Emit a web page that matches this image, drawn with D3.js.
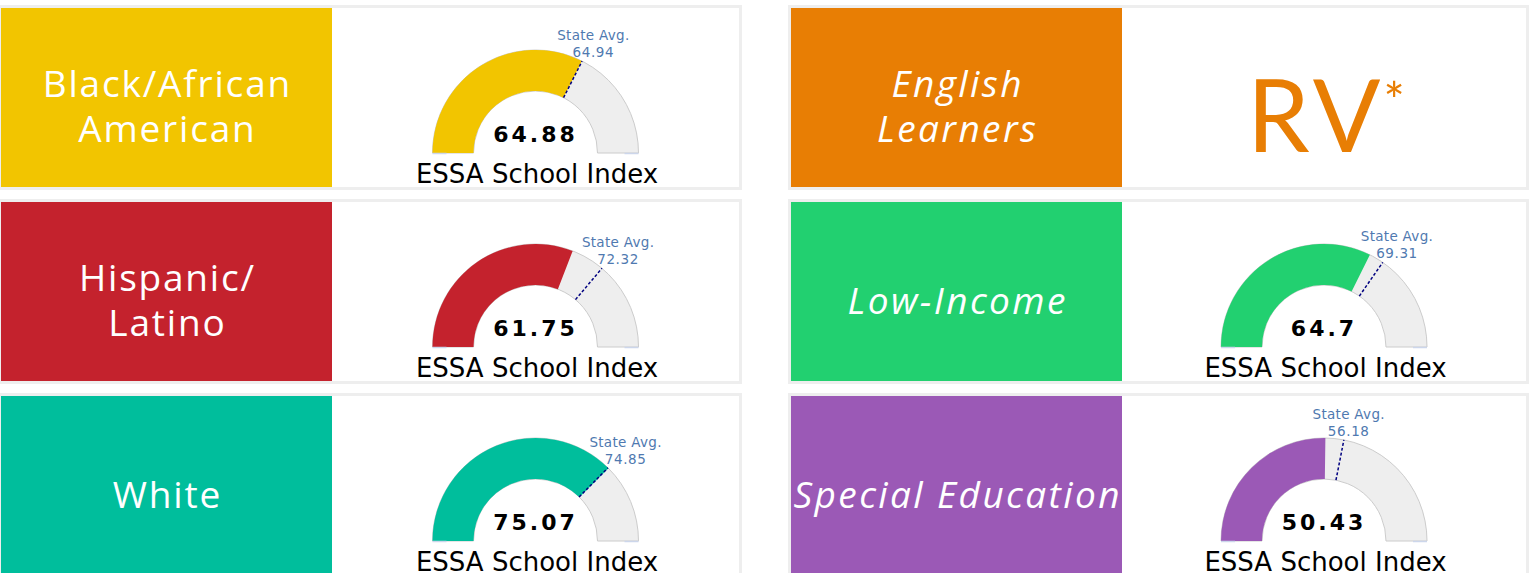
<!DOCTYPE html>
<html>
<head>
<meta charset="utf-8">
<script src="https://cdn.jsdelivr.net/npm/d3@7"></script>
<style>
  html, body { margin: 0; padding: 0; background: #fff; overflow: hidden; }
</style>
</head>
<body>
<svg width="1530" height="573"></svg>
<script>
// data
var groups      = ["Black/African American", "Hispanic/ Latino", "White", "English Learners", "Low-Income", "Special Education"];
var labelLines  = [["Black/African", "American"], ["Hispanic/", "Latino"], ["White"], ["English", "Learners"], ["Low-Income"], ["Special Education"]];
var schoolIndex = [64.88, 61.75, 75.07, null, 64.7, 50.43];
var stateAvg    = [64.94, 72.32, 74.85, null, 69.31, 56.18];
var indexRange  = [0, 100];
var gaugeTitle  = "ESSA School Index";
var avgLabel    = "State Avg.";
var noValue     = "RV";

// style
var colors  = ["#f2c500", "#c4222d", "#00be9c", "#e87e04", "#22d070", "#9b59b6"];
var italics = [false, false, false, true, true, true];

var svg = d3.select("svg"),
    width = +svg.attr("width"),
    height = +svg.attr("height");

var R = 103, r = 62;
var angle = d3.scaleLinear().domain(indexRange).range([-Math.PI / 2, Math.PI / 2]);
var arc = d3.arc().innerRadius(r).outerRadius(R);

function polar(a, rad) { return [rad * Math.sin(a), -rad * Math.cos(a)]; }

groups.forEach(function(name, i) {
	var col = Math.floor(i / 3), row = i % 3;
	var ox = col == 0 ? -2 : 788,
	    ow = col == 0 ? 744 : 741,
	    oy = 5 + row * 194,
	    oh = 185;
	var p = svg.append("g").attr("class", "panel");

	p.append("rect").attr("x", ox).attr("y", oy).attr("width", ow).attr("height", oh).attr("fill", "#eeeeee");
	p.append("rect").attr("x", ox + 3).attr("y", oy + 3).attr("width", ow - 6).attr("height", oh - 6).attr("fill", "#ffffff");

	var bx = ox + 3, by = oy + 3, bw = 331, bh = 179;
	p.append("rect").attr("x", bx).attr("y", by).attr("width", bw).attr("height", bh).attr("fill", colors[i]);

	// group name, one text with a tspan per line
	var lines = labelLines[i];
	var cyBlock = by + bh / 2;
	var first = cyBlock + 22 - (lines.length - 1) * 22.5;
	var ls = italics[i] ? 2.4 : 1.8;
	var cat = p.append("text")
		.attr("class", "cat")
		.attr("text-anchor", "middle")
		.attr("font-family", "'Open Sans', 'Noto Sans', sans-serif")
		.attr("font-size", 37)
		.attr("letter-spacing", ls)
		.attr("font-style", italics[i] ? "italic" : "normal")
		.attr("fill", "#ffffff");
	cat.selectAll("tspan").data(lines).enter().append("tspan")
		.attr("x", bx + bw / 2 + ls / 2)
		.attr("y", function(d, k) { return first + k * 45; })
		.text(function(d) { return d; });

	var cx = (bx + bw + ox + ow - 3) / 2,
	    cy = oy + 148;

	if (schoolIndex[i] == null) {
		var t = p.append("text")
			.attr("x", cx - 77)
			.attr("y", oy + 147)
			.attr("text-anchor", "start")
			.attr("font-family", "Lato, sans-serif")
			.attr("font-weight", 400)
			.attr("font-size", 100)
			.attr("fill", colors[i]);
		t.append("tspan").attr("letter-spacing", 5).text(noValue);
		t.append("tspan").attr("font-size", 50).attr("dy", -33).attr("dx", -2).text("*");
		return;
	}

	var g = p.append("g").attr("transform", "translate(" + cx + "," + cy + ")");

	g.append("path")
		.attr("d", arc({ startAngle: angle(indexRange[0]), endAngle: angle(indexRange[1]) }))
		.attr("fill", "#eeeeee")
		.attr("stroke", "#cccccc")
		.attr("stroke-width", 1);

	g.append("path")
		.attr("d", arc({ startAngle: angle(indexRange[0]), endAngle: angle(schoolIndex[i]) }))
		.attr("fill", colors[i]);

	// axis ends
	g.append("line").attr("x1", -R).attr("x2", -R + 14).attr("y1", 0.5).attr("y2", 0.5)
		.attr("stroke", "#ccd6eb").attr("stroke-width", 1.5);
	g.append("line").attr("x1", R - 14).attr("x2", R).attr("y1", 0.5).attr("y2", 0.5)
		.attr("stroke", "#ccd6eb").attr("stroke-width", 1.5);

	var a = angle(stateAvg[i]);
	var p1 = polar(a, r), p2 = polar(a, R);
	g.append("line")
		.attr("x1", p1[0]).attr("y1", p1[1])
		.attr("x2", p2[0]).attr("y2", p2[1])
		.attr("stroke", "#000080")
		.attr("stroke-width", 1.5)
		.attr("stroke-dasharray", "3,2");

	var lx = p2[0] + 25 * Math.sin(a), ly = p2[1] - 4;
	g.append("text")
		.attr("x", lx).attr("y", ly - 17)
		.attr("text-anchor", "middle")
		.attr("font-family", "'DejaVu Sans', sans-serif")
		.attr("font-size", 13.5)
		.attr("letter-spacing", 0.3)
		.attr("fill", "#4f79b0")
		.text(avgLabel);
	g.append("text")
		.attr("x", lx).attr("y", ly)
		.attr("text-anchor", "middle")
		.attr("font-family", "'DejaVu Sans', sans-serif")
		.attr("font-size", 13.5)
		.attr("letter-spacing", 0.6)
		.attr("fill", "#4f79b0")
		.text(stateAvg[i]);

	g.append("text")
		.attr("x", 0).attr("y", -11.5)
		.attr("text-anchor", "middle")
		.attr("font-family", "'DejaVu Sans', sans-serif")
		.attr("font-weight", "bold")
		.attr("font-size", 22)
		.attr("letter-spacing", 3)
		.attr("fill", "#000000")
		.text(schoolIndex[i]);

	g.append("text")
		.attr("x", 1.5).attr("y", 30)
		.attr("text-anchor", "middle")
		.attr("font-family", "'DejaVu Sans', sans-serif")
		.attr("font-size", 26)
		.attr("fill", "#000000")
		.text(gaugeTitle);
});
</script>
</body>
</html>
